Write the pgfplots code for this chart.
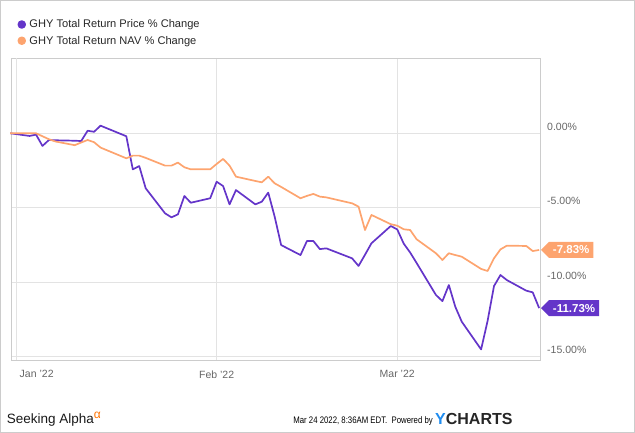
\documentclass[border=0pt]{standalone}
\usepackage{pgfplots}
\pgfplotsset{compat=1.18}
\usepackage{pgfplotstable}
\usepackage{fontspec}
\setmainfont{Liberation Sans}
\usetikzlibrary{shapes.symbols}
\definecolor{pricec}{HTML}{6435C9}
\definecolor{navc}{HTML}{FDA46F}
\definecolor{gridc}{HTML}{E3E3E3}
\definecolor{axisc}{HTML}{CCCCCC}
\definecolor{tickc}{HTML}{666666}
\definecolor{ybl}{HTML}{1E8CF0}

% d = days since Jan 1 2022
\pgfplotstableread{
d v
-1 0
2 -0.18
3 -0.09
4 -0.85
5 -0.45
6 -0.47
9 -0.50
10 -0.52
11 0.17
12 0.10
13 0.51
17 -0.20
18 -2.42
19 -2.20
20 -3.69
23 -5.37
24 -5.64
25 -5.44
26 -4.21
27 -4.66
30 -4.36
31 -3.25
32 -3.54
33 -4.77
34 -3.81
37 -4.77
38 -4.59
39 -3.98
40 -5.6
41 -7.5
44 -8.17
45 -7.23
46 -7.23
47 -7.77
48 -7.72
52 -8.39
53 -8.9
54 -8.15
55 -7.38
58 -6.22
59 -6.45
60 -7.4
61 -8.0
62 -8.7
65 -10.85
66 -11.26
67 -10.18
68 -11.64
69 -12.64
72 -14.5
73 -12.6
74 -10.25
75 -9.51
76 -9.85
79 -10.56
80 -10.67
81 -11.73
}\pricetab

\pgfplotstableread{
d v
-1 0
2 0.0
3 0.0
4 -0.2
5 -0.4
6 -0.55
9 -0.8
10 -0.62
11 -0.45
12 -0.6
13 -0.96
17 -1.68
18 -1.5
19 -1.5
20 -1.65
23 -2.17
24 -2.17
25 -1.97
26 -2.28
27 -2.42
30 -2.42
31 -2.06
32 -1.72
33 -2.17
34 -2.91
37 -3.2
38 -3.29
39 -2.91
40 -3.36
41 -3.6
44 -4.36
45 -4.2
46 -4.07
47 -4.25
48 -4.3
52 -4.7
53 -4.92
54 -6.49
55 -5.48
58 -6.1
59 -6.2
60 -6.44
61 -6.49
62 -7.11
65 -8.05
66 -8.5
67 -8.05
68 -8.17
69 -8.28
72 -9.1
73 -9.24
74 -8.39
75 -7.79
76 -7.54
79 -7.56
80 -7.9
81 -7.83
}\navtab

\begin{document}
\begin{tikzpicture}[x=1pt,y=1pt]
\useasboundingbox (0,0) rectangle (635,433);
\draw[axisc, line width=0.8pt] (0.4,0.4) rectangle (634.6,432.6);
\begin{axis}[
  at={(11pt,73pt)}, anchor=south west,
  scale only axis, width=529.7pt, height=302pt,
  xmin=-0.88, xmax=81.24, ymin=-15.21, ymax=5.05,
  clip=false,
  axis line style={axisc, line width=0.8pt},
  xtick={31,59}, xticklabels={Feb '22, Mar '22},
  extra x ticks={0}, extra x tick labels={Jan '22},
  extra x tick style={grid=major, xticklabel style={xshift=20pt}},
  xticklabel style={yshift=-7pt},
  ytick={-15,-10,-5,0}, yticklabels={-15.00\%,-10.00\%,-5.00\%,0.00\%},
  yticklabel pos=right,
  yticklabel style={anchor=west, xshift=3pt, yshift=6.5pt},
  grid=major, major grid style={gridc, line width=0.8pt},
  major tick length=0pt,
  tick label style={font=\fontsize{10.5}{12}\selectfont, text=tickc},
  legend style={draw=none, fill=none, at={(axis description cs:0.0089,1.134)},
    anchor=north west, font=\fontsize{11.1}{13}\selectfont, row sep=2.7pt,
    inner sep=0pt, text=black!85,
    /tikz/every odd column/.append style={column sep=1.4pt}},
  legend cell align=left,
  legend image code/.code={\path (0pt,0pt); \fill[#1] (5pt,0pt) circle (3.4pt);},
]
\addplot[color=pricec, line width=1.7pt, line join=round] table[x=d,y=v] {\pricetab};
\addlegendentry{GHY Total Return Price \% Change}
\addplot[color=navc, line width=1.7pt, line join=round] table[x=d,y=v] {\navtab};
\addlegendentry{GHY Total Return NAV \% Change}
\node[signal, signal to=west, fill=navc, text=white, anchor=west,
  font=\bfseries\fontsize{11.5}{12}\selectfont, inner xsep=4pt, inner ysep=2.5pt,
  minimum height=16pt] at (axis cs:81.24,-7.83) {-7.83\%};
\node[signal, signal to=west, fill=pricec, text=white, anchor=west,
  font=\bfseries\fontsize{11.5}{12}\selectfont, inner xsep=4pt, inner ysep=2.5pt,
  minimum height=16pt] at (axis cs:81.24,-11.73) {-11.73\%};
\end{axis}
\node[anchor=base west, inner sep=0pt, font=\fontsize{13.5}{14}\selectfont, text=black!90]
  at (6.7,9.5) {Seeking Alpha\raisebox{5pt}{\textcolor{orange!90!red}{\fontsize{12}{12}\selectfont α}}};
\node[anchor=base east, inner sep=0pt, font=\fontsize{9.5}{11}\selectfont]
  at (433,9) {\scalebox{0.82}[1]{Mar 24 2022, 8:36AM EDT.\ \ Powered by}};
\node[anchor=base west, inner sep=0pt, font=\bfseries\fontsize{16}{17}\selectfont]
  at (435,8) {\textcolor{ybl}{Y}\textcolor{black!85}{CHARTS}};
\end{tikzpicture}
\end{document}
